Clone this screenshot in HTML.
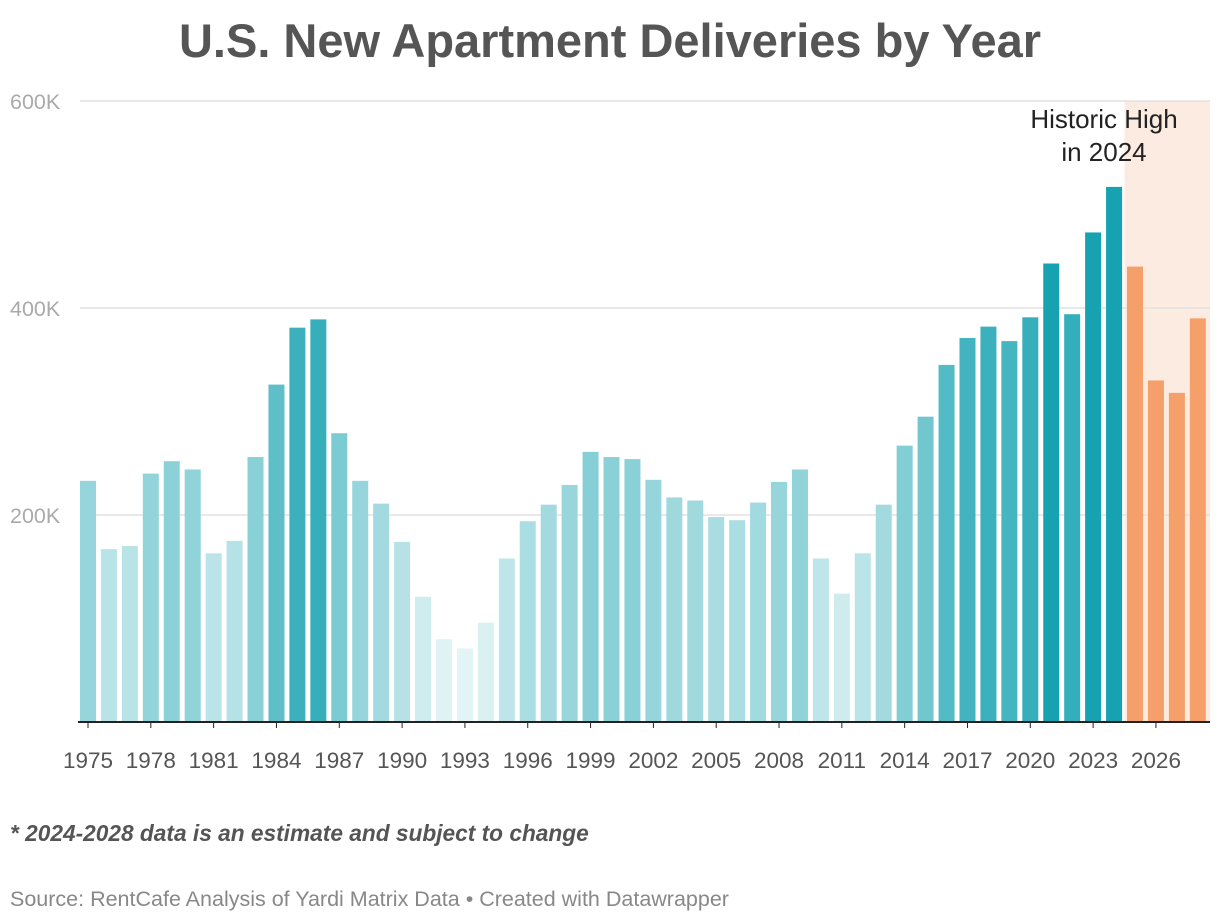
<!DOCTYPE html>
<html><head><meta charset="utf-8">
<style>
body{margin:0;background:#fff;font-family:"Liberation Sans",Arial,sans-serif;}
#wrap{position:relative;width:1220px;height:922px;overflow:hidden;}
</style></head>
<body>
<div id="wrap">
<svg id="chart" width="1220" height="922">
  <text x="610" y="57" text-anchor="middle" font-size="47" font-weight="bold" fill="#555">U.S. New Apartment Deliveries by Year</text>
  <g id="grid"></g>
  <g id="bars"></g>
  <g id="xlabels"></g>
  <text x="1104" y="128" text-anchor="middle" font-size="26" fill="#222">Historic High</text>
  <text x="1104" y="161" text-anchor="middle" font-size="26" fill="#222">in 2024</text>
  <text x="10" y="841" font-size="22.7" font-weight="bold" font-style="italic" fill="#555">* 2024-2028 data is an estimate and subject to change</text>
  <text x="10" y="906" font-size="21.5" fill="#888">Source: RentCafe Analysis of Yardi Matrix Data • Created with Datawrapper</text>
</svg>
</div>
<script>
const years=[];for(let y=1975;y<=2028;y++)years.push(y);
const values=[233,167,170,240,252,244,163,175,256,326,381,389,279,233,211,174,121,80,71,96,158,194,210,229,261,256,254,234,217,214,198,195,212,232,244,158,124,163,210,267,295,345,371,382,368,391,443,394,473,517,440,330,318,390];
const estimateStart=2025;
const yTicks=[200,400,600];
const yTickLabels=["200K","400K","600K"];

const NS="http://www.w3.org/2000/svg";
const x0=88,pitch=20.94,barW=16,yBase=722,yTop=101,yMax=600;
const xScale=i=>x0+i*pitch;
const yScale=v=>yBase-v/yMax*(yBase-yTop);
function mk(tag,attrs,parent){const e=document.createElementNS(NS,tag);for(const k in attrs)e.setAttribute(k,attrs[k]);parent.appendChild(e);return e;}
function lerp(a,b,t){return Math.round(a+(b-a)*t);}
function teal(v){let t=Math.max(0,Math.min(1,(v-70)/(440-70)));t=Math.pow(t,1.2);const c1=[226,244,245],c2=[22,162,176];return `rgb(${lerp(c1[0],c2[0],t)},${lerp(c1[1],c2[1],t)},${lerp(c1[2],c2[2],t)})`;}

const grid=document.getElementById('grid');
const estIdx=years.indexOf(estimateStart);
const shade=mk('rect',{x:xScale(estIdx)-pitch/2,y:yTop,width:1210-(xScale(estIdx)-pitch/2),height:yBase-yTop,fill:'#fcebe0'},grid);


yTicks.forEach((t,i)=>{
  const y=yScale(t);
  const l=mk('line',{x1:80,x2:1210,y1:y,y2:y,stroke:'#e2e2e2','stroke-width':1.5},grid);
  
  
  const tx=mk('text',{x:10,y:y+8,'font-size':21.5,fill:'#aaa'},grid);
  tx.textContent=yTickLabels[i];
  
  
});
const bars=document.getElementById('bars');
years.forEach((yr,i)=>{
  const v=values[i];
  const r=mk('rect',{x:xScale(i)-barW/2,y:yScale(v),width:barW,height:yBase-yScale(v),fill:yr>=estimateStart?'#f5a06a':teal(v)},bars);
  
  
});
const base=mk('line',{x1:78,x2:1210,y1:yBase,y2:yBase,stroke:'#222','stroke-width':2},bars);


const xl=document.getElementById('xlabels');
years.forEach((yr,i)=>{
  if((yr-1975)%3!==0)return;
  const t=mk('text',{x:xScale(i),y:768,'text-anchor':'middle','font-size':22.5,fill:'#555'},xl);
  t.textContent=yr;
  
  
  const tk=mk('line',{x1:xScale(i),x2:xScale(i),y1:yBase,y2:yBase+6,stroke:'#222','stroke-width':1},xl);
  
  
});
</script>
</body></html>
